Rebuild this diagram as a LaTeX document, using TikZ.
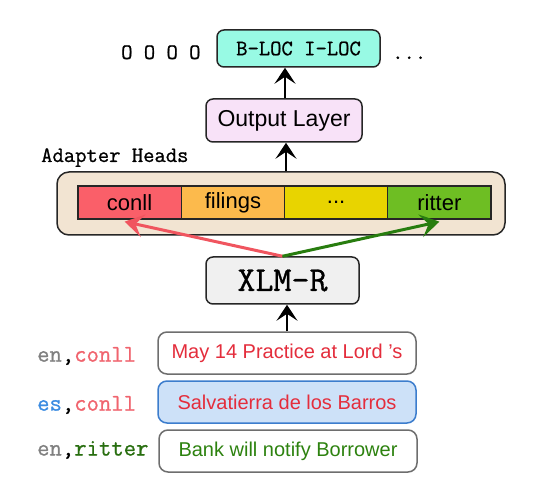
\documentclass[tikz,border=0pt]{standalone}
\usepackage{fontspec}
\setmainfont{Liberation Sans}
\newfontfamily\ttheavy{Latin Modern Mono}[FakeBold=0.9]
\usetikzlibrary{arrows.meta}
\definecolor{blocfill}{RGB}{152,250,228}
\definecolor{outfill}{RGB}{248,226,248}
\definecolor{beige}{RGB}{242,228,210}
\definecolor{cA}{RGB}{250,95,105}
\definecolor{cB}{RGB}{252,186,76}
\definecolor{cC}{RGB}{232,212,0}
\definecolor{cD}{RGB}{110,190,35}
\definecolor{xlmfill}{RGB}{240,240,240}
\definecolor{redarrow}{RGB}{240,85,95}
\definecolor{greenarrow}{RGB}{40,125,15}
\definecolor{engray}{RGB}{128,128,128}
\definecolor{conllred}{RGB}{240,100,110}
\definecolor{esblue}{RGB}{60,140,225}
\definecolor{rittergreen}{RGB}{40,110,15}
\definecolor{sentred}{RGB}{228,45,60}
\definecolor{sentgreen}{RGB}{45,130,15}
\definecolor{bluefill}{RGB}{205,225,248}
\definecolor{blueedge}{RGB}{60,125,205}
\definecolor{grayedge}{RGB}{110,110,110}
\begin{document}
\begin{tikzpicture}[x=1pt,y=-1pt,
  box/.style={draw=black!85, line width=1.5pt, rounded corners=7pt, inner sep=0pt},
  cell/.style={draw=black!85, line width=1.3pt, inner sep=0pt, minimum width=103.25pt, minimum height=33pt, font=\fontsize{22}{24}\selectfont},
  sent/.style={draw=grayedge, line width=1.5pt, rounded corners=9pt, inner sep=0pt, minimum width=258pt, minimum height=42pt, fill=white, font=\fontsize{20}{22}\selectfont},
  ttlab/.style={inner sep=0pt, font=\ttheavy\fontsize{22}{24}\selectfont},
  sidelab/.style={anchor=west, inner sep=0pt, font=\ttheavy\fontsize{24}{26}\selectfont},
  arr/.style={line width=1.5pt, -{Stealth[length=16pt,width=21pt,inset=7pt]}},
  colarr/.style={line width=3pt, -{Stealth[length=19pt,width=23pt,inset=8pt]}}
]
\useasboundingbox (0,0) rectangle (546,478);

% top row
\node[box, fill=blocfill, minimum width=163pt, minimum height=37pt, font=\ttheavy\fontsize{22}{24}\selectfont] (bloc) at (298.5,48.5) {B-LOC I-LOC};
\node[ttlab, anchor=base west] (oooo) at (121,59) {O O O O};
\node[ttlab, anchor=base west] (dots) at (392,59) {...};

% output layer
\node[box, fill=outfill, minimum width=156pt, minimum height=43pt, font=\fontsize{23}{26}\selectfont] (out) at (284,120.5) {Output Layer};
\draw[arr] ([xshift=1pt]out.north) -- ([xshift=1pt]out.north |- bloc.south);

% adapter heads
\node[ttlab, anchor=base west] (ahl) at (41,162) {Adapter Heads};
\node[box, fill=beige, rounded corners=12pt, minimum width=448pt, minimum height=63pt] (heads) at (281,203.5) {};
\node[cell, fill=cA] (c1) at (129.6,202.5) {conll};
\node[cell, fill=cB] (c2) at (232.9,202.5) {filings};
\node[cell, fill=cC] (c3) at (336.1,202.5) {...};
\node[cell, fill=cD] (c4) at (439.4,202.5) {ritter};
\draw[arr] ([xshift=2pt]heads.north -| out.south) -- ([xshift=2pt]out.south);

% XLM-R
\node[box, fill=xlmfill, minimum width=153pt, minimum height=47pt, font=\ttheavy\fontsize{35}{38}\selectfont] (xlm) at (282.5,280.5) {XLM-R};
\draw[colarr, draw=redarrow, fill=redarrow] (xlm.north) -- ([xshift=-5pt,yshift=-2pt]c1.south);
\draw[colarr, draw=greenarrow, fill=greenarrow] (xlm.north) -- ([yshift=-2pt]c4.south);

% sentences
\node[sent, text=sentred] (s1) at (287,353) {May 14 Practice at Lord 's};
\node[sent, draw=blueedge, fill=bluefill, text=sentred] (s2) at (287,402) {Salvatierra de los Barros};
\node[sent, text=sentgreen] (s3) at (288,451) {Bank will notify Borrower};
\draw[arr] (s1.north) -- (s1.north |- xlm.south);

% side labels
\node[sidelab] (l1) at (37,356) {\textcolor{engray}{en},\textcolor{conllred}{conll}};
\node[sidelab] (l2) at (37,405) {\textcolor{esblue}{es},\textcolor{conllred}{conll}};
\node[sidelab] (l3) at (37,450) {\textcolor{engray}{en},\textcolor{rittergreen}{ritter}};
\end{tikzpicture}
\end{document}
